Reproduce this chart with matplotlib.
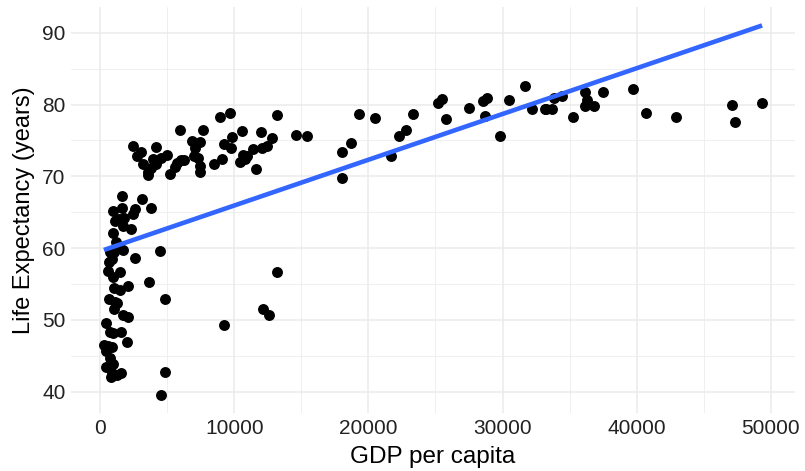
import numpy as np
import matplotlib.pyplot as plt
from matplotlib.ticker import MultipleLocator

plt.rcParams['font.family'] = ['Liberation Sans', 'DejaVu Sans']

# gapminder 2007: GDP per capita and life expectancy
gdp_per_capita = [
    974.58, 5937.03, 6223.37, 4797.23, 12779.38, 34435.37, 36126.49, 29796.05,
    1391.25, 33692.61, 1441.28, 3822.14, 7446.30, 12569.85, 9065.80, 10680.79,
    1217.03, 430.07, 1713.78, 2042.10, 36319.24, 706.02, 1704.06, 13171.64,
    4959.11, 7006.58, 986.15, 277.55, 3632.56, 9645.06, 1544.75, 14619.22,
    8948.10, 22833.31, 35278.42, 2082.48, 6025.37, 6873.26, 5581.18, 5728.35,
    12154.09, 641.37, 690.81, 33207.08, 30470.02, 13206.48, 752.75, 32170.37,
    1327.61, 27538.41, 5186.05, 942.65, 579.23, 1201.64, 3548.33, 39724.98,
    18008.94, 36180.79, 2452.21, 3540.65, 11605.71, 4471.06, 40675.00, 25523.28,
    28569.72, 7320.88, 31656.07, 4519.46, 1463.25, 1593.07, 23348.14, 47306.99,
    10461.06, 1569.33, 414.51, 12057.50, 1044.77, 759.35, 12451.66, 1042.58,
    1803.15, 10956.99, 11977.57, 3095.77, 9253.90, 3820.18, 823.69, 944.00,
    4811.06, 1091.36, 36797.93, 25185.01, 2749.32, 619.68, 2013.98, 49357.19,
    22316.19, 2605.95, 9809.19, 4172.84, 7408.91, 3190.48, 15389.92, 20509.65,
    19328.71, 7670.12, 10808.48, 863.09, 1598.44, 21654.83, 1712.47, 9786.53,
    862.54, 47143.18, 18678.31, 25768.26, 926.14, 9269.66, 28821.06, 3970.10,
    2602.39, 4513.48, 33859.75, 37506.42, 4184.55, 28718.28, 1107.48, 7458.40,
    882.97, 18008.51, 7092.92, 8458.28, 1056.38, 33203.26, 42951.65, 10611.46,
    11415.81, 2441.58, 3025.35, 2280.77, 1271.21, 469.71,
]
life_expectancy = [
    43.83, 76.42, 72.30, 42.73, 75.32, 81.24, 79.83, 75.64,
    64.06, 79.44, 56.73, 65.55, 74.85, 50.73, 72.39, 73.01,
    52.30, 49.58, 59.72, 50.43, 80.65, 44.74, 50.65, 78.55,
    72.96, 72.89, 65.15, 46.46, 55.32, 78.78, 48.33, 75.75,
    78.27, 76.49, 78.33, 54.79, 72.24, 74.99, 71.34, 71.88,
    51.58, 58.04, 52.95, 79.31, 80.66, 56.74, 59.45, 79.41,
    60.02, 79.48, 70.26, 56.01, 46.39, 60.92, 70.20, 82.21,
    73.34, 81.76, 64.70, 70.65, 70.96, 59.55, 78.89, 80.75,
    80.55, 72.57, 82.60, 72.54, 54.11, 67.30, 78.62, 77.59,
    71.99, 42.59, 45.68, 73.95, 59.44, 48.30, 74.24, 54.47,
    64.16, 72.80, 76.20, 66.80, 74.54, 71.16, 42.08, 62.07,
    52.91, 63.79, 79.76, 80.20, 72.90, 56.87, 46.86, 80.20,
    75.64, 65.48, 75.54, 71.75, 71.42, 71.69, 75.56, 78.10,
    78.75, 76.44, 72.48, 46.24, 65.53, 72.78, 63.06, 74.00,
    42.57, 79.97, 74.66, 77.93, 48.16, 49.34, 80.94, 72.40,
    58.56, 39.61, 80.88, 81.70, 74.14, 78.40, 52.52, 70.62,
    58.42, 69.82, 73.92, 71.78, 51.54, 79.43, 78.24, 76.38,
    73.75, 74.25, 73.42, 62.70, 42.38, 43.49,
]

x = np.array(gdp_per_capita)
y = np.array(life_expectancy)

fig = plt.figure(figsize=(8.05, 4.71), dpi=100)
ax = fig.add_axes([71 / 805, 58 / 471, 724 / 805, 406 / 471])

ax.scatter(x, y, s=62, color='black', zorder=3, linewidths=0)

# linear fit
slope, intercept = np.polyfit(x, y, 1)
xs = np.linspace(x.min(), x.max(), 100)
ax.plot(xs, intercept + slope * xs, color='#3366FF', lw=3.3, zorder=4,
        solid_capstyle='butt')

ax.set_xlim(x.min() - 0.05 * (x.max() - x.min()), x.max() + 0.05 * (x.max() - x.min()))
ymax = max(y.max(), intercept + slope * x.max())
ax.set_ylim(y.min() - 0.05 * (ymax - y.min()), ymax + 0.05 * (ymax - y.min()))

ax.xaxis.set_major_locator(MultipleLocator(10000))
ax.xaxis.set_minor_locator(MultipleLocator(5000))
ax.yaxis.set_major_locator(MultipleLocator(10))
ax.yaxis.set_minor_locator(MultipleLocator(5))

ax.grid(True, which='major', color='#EBEBEB', lw=1.1)
ax.grid(True, which='minor', color='#EBEBEB', lw=0.55)
ax.set_axisbelow(True)
for s in ax.spines.values():
    s.set_visible(False)
ax.tick_params(which='both', length=0, labelsize=15, labelcolor='#222222', pad=4)

ax.set_xlabel('GDP per capita', fontsize=17.5, color='black', labelpad=6)
ax.set_ylabel('Life Expectancy (years)', fontsize=17, color='black', labelpad=5)

fig.savefig('out.png', dpi=100)
